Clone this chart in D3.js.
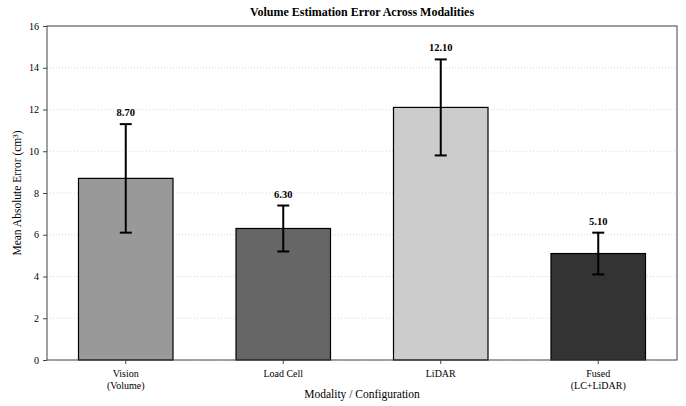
<!DOCTYPE html>
<html>
<head>
<meta charset="utf-8">
<script src="https://cdn.jsdelivr.net/npm/d3@7"></script>
<style>
  body { margin: 0; background: #fff; }
  svg { font-family: "Liberation Serif", "DejaVu Serif", serif; }
</style>
</head>
<body>
<svg width="686" height="406"></svg>
<script>
// chart data
const categories = ['Vision\n(Volume)', 'Load Cell', 'LiDAR', 'Fused\n(LC+LiDAR)'];
const values = [8.7, 6.3, 12.1, 5.1];
const errors = [2.6, 1.1, 2.3, 1.0];
const colors = ['#999999', '#666666', '#cccccc', '#333333'];
const yTicks = [0, 2, 4, 6, 8, 10, 12, 14, 16];

const dataset = categories.map((c, i) => ({ cat: c, val: values[i], err: errors[i], color: colors[i] }));

const svg = d3.select('svg');
const plotLeft = 47, plotRight = 677, plotTop = 26, plotBottom = 360;

// x scale
const xScale = d3.scaleBand()
    .domain(categories)
    .range([plotLeft, plotRight])
    .paddingInner(0.4)
    .paddingOuter(0.2);

// y scale
const yScale = d3.scaleLinear()
    .domain([0, 16])
    .range([plotBottom, plotTop]);

// grid lines
svg.append('g')
    .selectAll('line')
    .data(yTicks)
    .enter()
    .append('line')
    .attr('x1', plotLeft)
    .attr('x2', plotRight)
    .attr('y1', d => yScale(d))
    .attr('y2', d => yScale(d))
    .style('stroke', '#cfcfcf')
    .style('stroke-width', 0.8)
    .style('stroke-dasharray', '1,2');

// bars
svg.append('g')
    .selectAll('rect')
    .data(dataset)
    .enter()
    .append('rect')
    .attr('x', d => xScale(d.cat))
    .attr('y', d => yScale(d.val))
    .attr('width', xScale.bandwidth())
    .attr('height', d => yScale(0) - yScale(d.val))
    .style('fill', d => d.color)
    .style('stroke', '#000')
    .style('stroke-width', 1.2);

// error bars
const err = svg.append('g')
    .selectAll('g')
    .data(dataset)
    .enter()
    .append('g')
    .attr('transform', d => 'translate(' + (xScale(d.cat) + xScale.bandwidth() / 2) + ',0)');

err.append('line')
    .attr('y1', d => yScale(d.val - d.err))
    .attr('y2', d => yScale(d.val + d.err))
    .style('stroke', '#000')
    .style('stroke-width', 2);

err.selectAll('.cap')
    .data(d => [d.val - d.err, d.val + d.err])
    .enter()
    .append('line')
    .attr('class', 'cap')
    .attr('x1', -6)
    .attr('x2', 6)
    .attr('y1', d => yScale(d))
    .attr('y2', d => yScale(d))
    .style('stroke', '#000')
    .style('stroke-width', 2);

// value labels
err.append('text')
    .attr('y', d => yScale(d.val + d.err) - 8)
    .attr('text-anchor', 'middle')
    .style('font-size', '10.5px')
    .style('font-weight', 'bold')
    .text(d => d.val.toFixed(2));

// frame
svg.append('rect')
    .attr('x', plotLeft)
    .attr('y', plotTop)
    .attr('width', plotRight - plotLeft)
    .attr('height', plotBottom - plotTop)
    .style('fill', 'none')
    .style('stroke', '#444')
    .style('stroke-width', 1);

// y axis
const yAxis = d3.axisLeft(yScale)
    .tickValues(yTicks)
    .tickSize(4)
    .tickPadding(4);

const yG = svg.append('g')
    .attr('transform', 'translate(' + plotLeft + ',0)')
    .call(yAxis);
yG.select('.domain').remove();
yG.selectAll('line').style('stroke', '#444');
yG.selectAll('text')
    .style('font-family', '"Liberation Serif", serif')
    .style('font-size', '10px')
    .style('fill', '#000');

// x axis
const xAxis = d3.axisBottom(xScale)
    .tickSize(4)
    .tickFormat('');

const xG = svg.append('g')
    .attr('transform', 'translate(0,' + plotBottom + ')')
    .call(xAxis);
xG.select('.domain').remove();
xG.selectAll('line').style('stroke', '#444');

// x tick labels, two lines
xG.selectAll('.tick')
    .append('text')
    .attr('text-anchor', 'middle')
    .style('font-family', '"Liberation Serif", serif')
    .style('font-size', '10px')
    .style('fill', '#000')
    .selectAll('tspan')
    .data(d => d.split('\n'))
    .enter()
    .append('tspan')
    .attr('x', 0)
    .attr('y', (d, i) => 17 + i * 12)
    .text(d => d);

// x label
svg.append('text')
    .attr('x', (plotLeft + plotRight) / 2)
    .attr('y', 398)
    .attr('text-anchor', 'middle')
    .style('font-size', '11.5px')
    .text('Modality / Configuration');

// y label
svg.append('text')
    .attr('transform', 'translate(21,' + (plotTop + plotBottom) / 2 + ') rotate(-90)')
    .attr('text-anchor', 'middle')
    .style('font-size', '11.5px')
    .text('Mean Absolute Error (cm³)');

// title
svg.append('text')
    .attr('x', (plotLeft + plotRight) / 2)
    .attr('y', 16)
    .attr('text-anchor', 'middle')
    .style('font-size', '12px')
    .style('font-weight', 'bold')
    .text('Volume Estimation Error Across Modalities');
</script>
</body>
</html>
